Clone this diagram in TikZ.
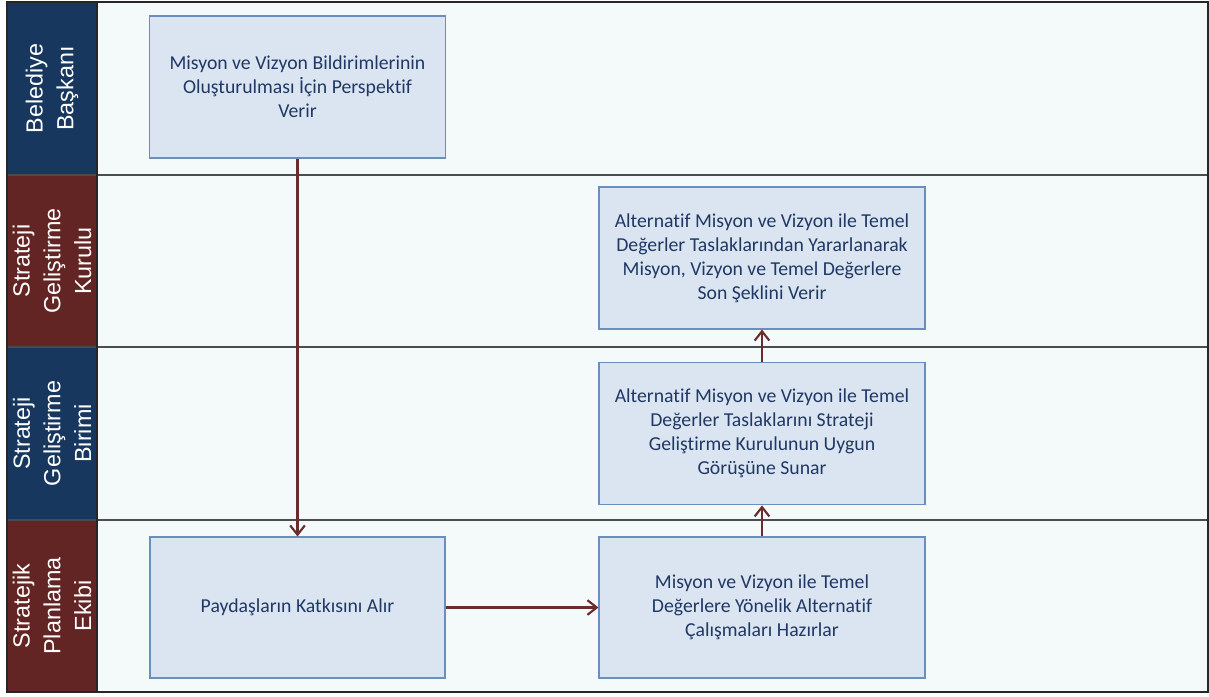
\documentclass[tikz,border=0pt]{standalone}
\usepackage{fontspec}
\setmainfont{Carlito}[Ligatures=NoCommon]
\newfontfamily\lanefont{Liberation Sans}
\usepackage{tikz}
\usetikzlibrary{arrows.meta}

\definecolor{lanebg}{HTML}{F4F9FA}
\definecolor{boxfill}{HTML}{DBE5F1}
\definecolor{boxline}{HTML}{6C8EBF}
\definecolor{boxtext}{HTML}{1F3864}
\definecolor{navyhead}{HTML}{17375E}
\definecolor{redhead}{HTML}{632523}
\definecolor{arrowred}{HTML}{6B2C2C}

\tikzset{
  task/.style={draw=boxline,fill=boxfill,line width=0.8pt,align=center,
    text=boxtext,font=\fontsize{14.8}{18}\selectfont,inner sep=0pt},
  lanetitle/.style={rotate=90,align=center,text=white,
    font=\lanefont\fontsize{17.5}{23}\selectfont},
  flow/.style={-{Straight Barb[length=7pt,width=11pt,line width=1.6pt]},
    draw=arrowred,line width=1.7pt}
}

\begin{document}
\begin{tikzpicture}[x=0.75pt,y=-0.75pt]
                      \useasboundingbox (0,0) rectangle (1209,696);
                      \fill[lanebg](97,2)rectangle(1208,692);
                      \fill[navyhead](7,2)rectangle(97,175);
                      \fill[redhead](7,175)rectangle(97,347);
                      \fill[navyhead](7,347)rectangle(97,520);
                      \fill[redhead](7,520)rectangle(97,692);
                      \draw[gray!60!black,line width=1pt](7,175)--(1208,175) (7,347)--(1208,347) (7,520)--(1208,520);
                      \draw[black!85,line width=1pt](97,2)--(97,692);
                      \draw[black!85,line width=1pt](7,2)rectangle(1208,692);
                      \node[lanetitle](l1)at(52,88.5){Belediye\\Başkanı};
                      \node[lanetitle](l2)at(52,261){Strateji\\Geliştirme\\Kurulu};
                      \node[lanetitle](l3)at(52,433.5){Strateji\\Geliştirme\\Birimi};
                      \node[lanetitle](l4)at(52,606){Stratejik\\Planlama\\Ekibi};
                      \node[task,minimum width=222pt,minimum height=106.5pt](b1)at(297.5,87){Misyon ve Vizyon Bildirimlerinin\\Oluşturulması İçin Perspektif\\Verir};
                      \node[task,minimum width=244.5pt,minimum height=106.5pt](b2)at(762,258){Alternatif Misyon ve Vizyon ile Temel\\Değerler Taslaklarından Yararlanarak\\Misyon, Vizyon ve Temel Değerlere\\Son Şeklini Verir};
                      \node[task,minimum width=244.5pt,minimum height=107pt](b3)at(762,433.5){Alternatif Misyon ve Vizyon ile Temel\\Değerler Taslaklarını Strateji\\Geliştirme Kurulunun Uygun\\Görüşüne Sunar};
                      \node[task,minimum width=221.25pt,minimum height=105.75pt](b4)at(297.5,607.5){Paydaşların Katkısını Alır};
                      \node[task,minimum width=244.5pt,minimum height=105.75pt](b5)at(762,607.5){Misyon ve Vizyon ile Temel\\Değerlere Yönelik Alternatif\\Çalışmaları Hazırlar};
                      \draw[flow](b1)--(b4);
                      \draw[flow](b4)--(b5);
                      \draw[flow](b5)--(b3);
                      \draw[flow](b3)--(b2);
                  \end{tikzpicture}
\end{document}
